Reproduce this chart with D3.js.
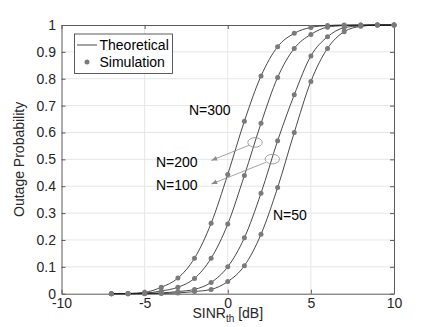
<!DOCTYPE html>
<html>
<head>
<meta charset="utf-8">
<script src="https://cdn.jsdelivr.net/npm/d3@7"></script>
<style>
  body { margin: 0; background: #fff; }
  svg { display: block; font-family: 'Liberation Sans', Arial, sans-serif; }
</style>
</head>
<body>
<div id="chart"></div>
<script>
// SINR threshold (dB) sample points
const sinr = [-7, -6, -5, -4, -3, -2, -1, 0, 1, 2, 3, 4, 5, 6, 7, 8, 9, 10]

// outage probability per number of elements N
const outN300 = [0, 0.001, 0.005, 0.024, 0.058, 0.132, 0.262, 0.444, 0.642, 0.81, 0.919, 0.969, 0.991, 0.998, 1, 1, 1, 1]
const outN200 = [0, 0, 0.002, 0.01, 0.024, 0.057, 0.132, 0.259, 0.44, 0.634, 0.805, 0.913, 0.965, 0.992, 0.998, 1, 1, 1]
const outN100 = [0, 0, 0.001, 0.003, 0.008, 0.016, 0.042, 0.1, 0.208, 0.374, 0.569, 0.74, 0.885, 0.956, 0.99, 0.997, 1, 1]
const outN50 = [0, 0, 0, 0.001, 0.003, 0.008, 0.016, 0.045, 0.104, 0.221, 0.395, 0.6, 0.79, 0.913, 0.975, 0.995, 1, 1]

const seriesList = [outN300, outN200, outN100, outN50]

const xTicks = [-10, -5, 0, 5, 10]
const yTicks = [0, 0.1, 0.2, 0.3, 0.4, 0.5, 0.6, 0.7, 0.8, 0.9, 1]

// curve labels, in data coordinates
const labels = [
  { text: 'N=300', x: -2.33, y: 0.684 },
  { text: 'N=200', x: -4.32, y: 0.49 },
  { text: 'N=100', x: -4.32, y: 0.405 },
  { text: 'N=50', x: 2.72, y: 0.293 }
]
// ellipses around a curve and arrows to its label
const ellipses = [{ x: 1.64, y: 0.563 }, { x: 2.68, y: 0.501 }]
const arrows = [
  { x1: 1.3, y1: 0.553, x2: -0.99, y2: 0.496 },
  { x1: 2.3, y1: 0.489, x2: -0.99, y2: 0.408 }
]

const width = 436
const height = 327
const plotLeft = 61.5
const plotRight = 394
const plotTop = 25
const plotBottom = 293.7
const textColor = '#262626'
const axisColor = '#5a5a5a'
const fs = 14

const x = d3.scaleLinear().domain([-10, 10]).range([plotLeft, plotRight])
const y = d3.scaleLinear().domain([0, 1]).range([plotBottom, plotTop])

const svg = d3.select('#chart')
  .append('svg')
  .attr('width', width)
  .attr('height', height)

svg.append('defs')
  .append('marker')
  .attr('id', 'arrowhead')
  .attr('viewBox', '0 -5 10 10')
  .attr('refX', 10)
  .attr('refY', 0)
  .attr('orient', 'auto')
  .attr('markerWidth', 6)
  .attr('markerHeight', 6)
  .attr('markerUnits', 'userSpaceOnUse')
  .append('path')
  .attr('d', 'M0,-4L10,0L0,4Z')
  .attr('fill', '#8c8c8c')

// grid
const grid = svg.append('g').attr('stroke', '#e6e6e6').attr('stroke-width', 1)
grid.selectAll('.gx')
  .data(xTicks.slice(1, -1))
  .join('line')
  .attr('x1', d => x(d)).attr('x2', d => x(d))
  .attr('y1', plotTop).attr('y2', plotBottom)
grid.selectAll('.gy')
  .data(yTicks.slice(1, -1))
  .join('line')
  .attr('x1', plotLeft).attr('x2', plotRight)
  .attr('y1', d => y(d)).attr('y2', d => y(d))

// axes
const styleAxis = (g) => {
  g.select('.domain').attr('stroke', axisColor)
  g.selectAll('.tick line').attr('stroke', axisColor)
  g.selectAll('.tick text').attr('fill', textColor).style('font-size', fs + 'px')
}

// plain hyphen minus like the original figure
const fmt = d => String(d)

svg.append('g')
  .attr('transform', `translate(0,${plotBottom})`)
  .call(d3.axisBottom(x).tickValues(xTicks).tickFormat(fmt).tickSizeInner(-4).tickSizeOuter(0).tickPadding(4.5))
  .call(styleAxis)

svg.append('g')
  .attr('transform', `translate(${plotLeft},0)`)
  .call(d3.axisLeft(y).tickValues(yTicks).tickFormat(fmt).tickSizeInner(-4).tickSizeOuter(0).tickPadding(5.5))
  .call(styleAxis)

svg.append('g')
  .attr('transform', `translate(0,${plotTop})`)
  .call(d3.axisTop(x).tickValues(xTicks).tickSizeInner(-4).tickSizeOuter(0).tickFormat(''))
  .call(styleAxis)

svg.append('g')
  .attr('transform', `translate(${plotRight},0)`)
  .call(d3.axisRight(y).tickValues(yTicks).tickSizeInner(-4).tickSizeOuter(0).tickFormat(''))
  .call(styleAxis)

// theoretical curves
const line = d3.line()
  .x((d, i) => x(sinr[i]))
  .y(d => y(d))
  .curve(d3.curveMonotoneX)

svg.append('g')
  .selectAll('path')
  .data(seriesList)
  .join('path')
  .attr('d', line)
  .attr('fill', 'none')
  .attr('stroke', '#1a1a1a')
  .attr('stroke-width', 0.8)

// simulation markers
svg.append('g')
  .selectAll('g')
  .data(seriesList)
  .join('g')
  .selectAll('circle')
  .data(d => d)
  .join('circle')
  .attr('cx', (d, i) => x(sinr[i]))
  .attr('cy', d => y(d))
  .attr('r', 2.5)
  .attr('fill', '#7a7a7a')

// ellipses and arrows
svg.append('g')
  .selectAll('ellipse')
  .data(ellipses)
  .join('ellipse')
  .attr('cx', d => x(d.x))
  .attr('cy', d => y(d.y))
  .attr('rx', 7.2)
  .attr('ry', 4.8)
  .attr('fill', 'none')
  .attr('stroke', '#8c8c8c')
  .attr('stroke-width', 0.8)

svg.append('g')
  .selectAll('line')
  .data(arrows)
  .join('line')
  .attr('x1', d => x(d.x1)).attr('y1', d => y(d.y1))
  .attr('x2', d => x(d.x2)).attr('y2', d => y(d.y2))
  .attr('stroke', '#8c8c8c')
  .attr('stroke-width', 0.8)
  .attr('marker-end', 'url(#arrowhead)')

// curve labels
svg.append('g')
  .selectAll('text')
  .data(labels)
  .join('text')
  .attr('x', d => x(d.x))
  .attr('y', d => y(d.y))
  .attr('dy', '0.35em')
  .attr('fill', '#000')
  .style('font-size', fs + 'px')
  .text(d => d.text)

// legend
const legend = svg.append('g')
legend.append('rect')
  .attr('x', 74.5).attr('y', 34)
  .attr('width', 98).attr('height', 39.5)
  .attr('fill', '#fff')
  .attr('stroke', '#333')
  .attr('stroke-width', 0.8)
legend.append('line')
  .attr('x1', 77).attr('x2', 97)
  .attr('y1', 45).attr('y2', 45)
  .attr('stroke', '#1a1a1a')
  .attr('stroke-width', 0.8)
legend.append('circle')
  .attr('cx', 87).attr('cy', 62).attr('r', 2.5)
  .attr('fill', '#7a7a7a')
legend.selectAll('text')
  .data(['Theoretical', 'Simulation'])
  .join('text')
  .attr('x', 99.5)
  .attr('y', (d, i) => 45 + i * 17)
  .attr('dy', '0.35em')
  .attr('fill', '#000')
  .style('font-size', fs + 'px')
  .text(d => d)

// axis titles
svg.append('text')
  .attr('transform', `translate(19,${(plotTop + plotBottom) / 2}) rotate(-90)`)
  .attr('text-anchor', 'middle')
  .attr('dy', '0.35em')
  .attr('fill', textColor)
  .style('font-size', fs + 'px')
  .text('Outage Probability')

const xTitle = svg.append('text')
  .attr('x', x(0))
  .attr('y', 318)
  .attr('text-anchor', 'middle')
  .attr('fill', textColor)
  .style('font-size', fs + 'px')
xTitle.append('tspan').text('SINR')
xTitle.append('tspan').attr('dy', 4).style('font-size', '10px').text('th')
xTitle.append('tspan').attr('dy', -4).text(' [dB]')
</script>
</body>
</html>
